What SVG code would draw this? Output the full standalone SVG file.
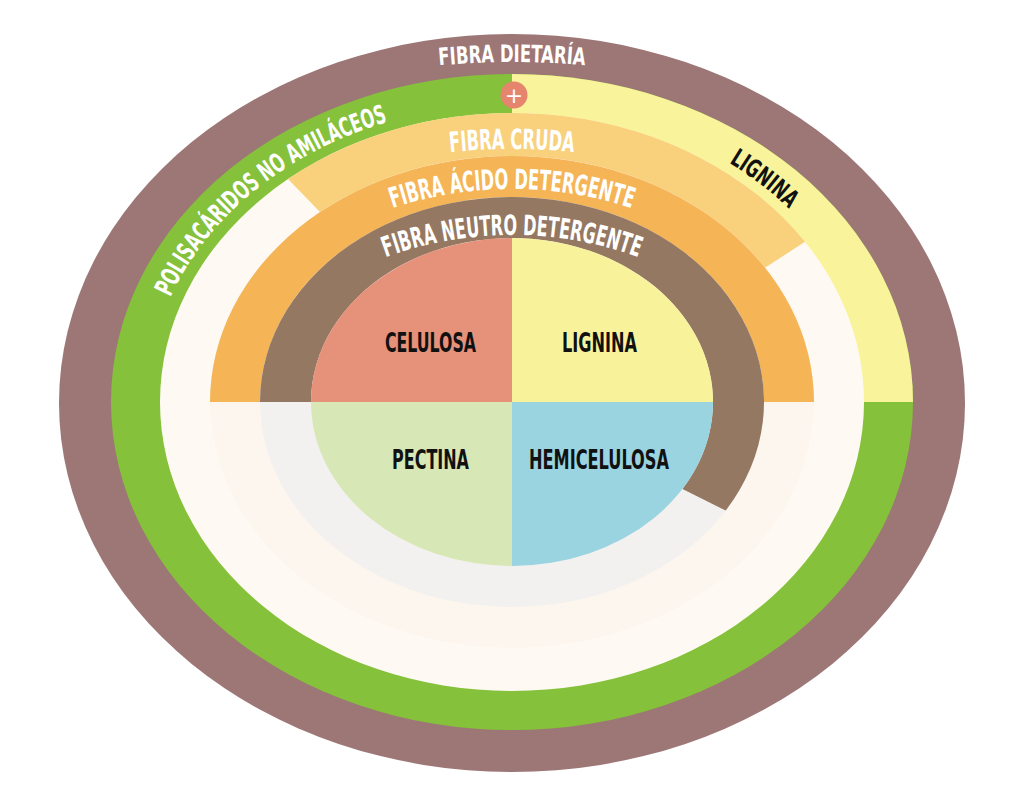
<svg xmlns="http://www.w3.org/2000/svg" xmlns:xlink="http://www.w3.org/1999/xlink" width="1024" height="805" viewBox="0 0 1024 805">
  <style>
    .lbl { font-family: "Liberation Sans Narrow", "DejaVu Sans Condensed", "DejaVu Sans", sans-serif; font-weight: bold; font-stretch: condensed; }
    .w { fill: #ffffff; }
    .k { fill: #111111; }
  </style>
  <defs>
    <path id="p-dietaria" d="M362,76.2 A800 800 0 0 1 662,76.2"/>
    <path id="p-cruda" d="M312,183.3 A600 600 0 0 1 712,183.3"/>
    <path id="p-acido" d="M312,245.5 A382 382 0 0 1 712,245.5"/>
    <path id="p-neutro" d="M312,293.7 A370 370 0 0 1 712,293.7"/>
    <path id="p-pna" d="M152.5,350.3 A365 298 0 0 1 442.4,109.5"/>
    <path id="p-lignina" d="M671.6,134.2 A364 298 0 0 1 830.4,257.5"/>
  </defs>
  <rect width="1024" height="805" fill="#ffffff"/>

  <g id="fibra-dietaria">
    <ellipse cx="512" cy="403" rx="453" ry="369" fill="#9d7676"/>
    <text class="lbl w" font-size="24" text-anchor="middle"><textPath xlink:href="#p-dietaria" href="#p-dietaria" startOffset="50%" textLength="146" lengthAdjust="spacingAndGlyphs">FIBRA DIETARÍA</textPath></text>
  </g>

  <g id="polisacaridos-no-amilaceos">
    <ellipse cx="512" cy="402" rx="401" ry="328" fill="#85c13a"/>
    <text class="lbl w" font-size="26" text-anchor="middle"><textPath xlink:href="#p-pna" href="#p-pna" startOffset="50%" textLength="288" lengthAdjust="spacingAndGlyphs">POLISACÁRIDOS NO AMILÁCEOS</textPath></text>
  </g>

  <g id="lignina-exterior">
    <path d="M512,402 V74 A401 328 0 0 1 913,402 Z" fill="#f9f39b"/>
    <text class="lbl k" font-size="25" text-anchor="middle"><textPath xlink:href="#p-lignina" href="#p-lignina" startOffset="50%" textLength="76" lengthAdjust="spacingAndGlyphs">LIGNINA</textPath></text>
  </g>

  <g id="interior">
    <ellipse cx="512" cy="402" rx="352" ry="289" fill="#fefaf3"/>
  </g>

  <g id="plus">
    <circle cx="514" cy="95" r="13.5" fill="#e5856e"/>
    <text x="514" y="102.5" font-family="DejaVu Sans, sans-serif" font-size="22" fill="#ffffff" text-anchor="middle">+</text>
  </g>

  <g id="fibra-cruda">
    <path d="M288,179.1 A352 289 0 0 1 805,241.8 L765,267.7 A302 246 0 0 0 320,212.1 Z" fill="#f9d17c"/>
  </g>

  <g id="fibra-acido-detergente">
    <ellipse cx="512" cy="402" rx="302" ry="246" fill="#fcf6ee"/>
    <path d="M210,402 A302 246 0 0 1 814,402 Z" fill="#f5b556"/>
  </g>

  <g id="fibra-neutro-detergente">
    <ellipse cx="512" cy="402" rx="252" ry="205" fill="#f3f1ef"/>
    <path d="M260,402 A252 205 0 1 1 725.7,510.6 L682.5,488.9 A201 164 0 1 0 311,402 Z" fill="#957862"/>
  </g>

  <g id="celulosa">
    <path d="M512,402 H311 A201 164 0 0 1 512,238 Z" fill="#e6917a"/>
    <text class="lbl k" x="430.5" y="352" font-size="27" text-anchor="middle" textLength="91" lengthAdjust="spacingAndGlyphs">CELULOSA</text>
  </g>
  <g id="lignina">
    <path d="M512,402 V238 A201 164 0 0 1 713,402 Z" fill="#f8f39b"/>
    <text class="lbl k" x="599.5" y="352" font-size="27" text-anchor="middle" textLength="75" lengthAdjust="spacingAndGlyphs">LIGNINA</text>
  </g>
  <g id="hemicelulosa">
    <path d="M512,402 H713 A201 164 0 0 1 512,566 Z" fill="#99d4e0"/>
    <text class="lbl k" x="599" y="469" font-size="27" text-anchor="middle" textLength="140" lengthAdjust="spacingAndGlyphs">HEMICELULOSA</text>
  </g>
  <g id="pectina">
    <path d="M512,402 V566 A201 164 0 0 1 311,402 Z" fill="#d8e7b6"/>
    <text class="lbl k" x="430.5" y="469" font-size="27" text-anchor="middle" textLength="77" lengthAdjust="spacingAndGlyphs">PECTINA</text>
  </g>

  <g id="band-labels">
    <text class="lbl w" font-size="28" text-anchor="middle"><textPath xlink:href="#p-cruda" href="#p-cruda" startOffset="50%" textLength="124" lengthAdjust="spacingAndGlyphs">FIBRA CRUDA</textPath></text>
    <text class="lbl w" font-size="28" text-anchor="middle"><textPath xlink:href="#p-acido" href="#p-acido" startOffset="50%" textLength="243" lengthAdjust="spacingAndGlyphs">FIBRA ÁCIDO DETERGENTE</textPath></text>
    <text class="lbl w" font-size="28" text-anchor="middle"><textPath xlink:href="#p-neutro" href="#p-neutro" startOffset="50%" textLength="258" lengthAdjust="spacingAndGlyphs">FIBRA NEUTRO DETERGENTE</textPath></text>
  </g>

  <g id="connectors"/>
</svg>
